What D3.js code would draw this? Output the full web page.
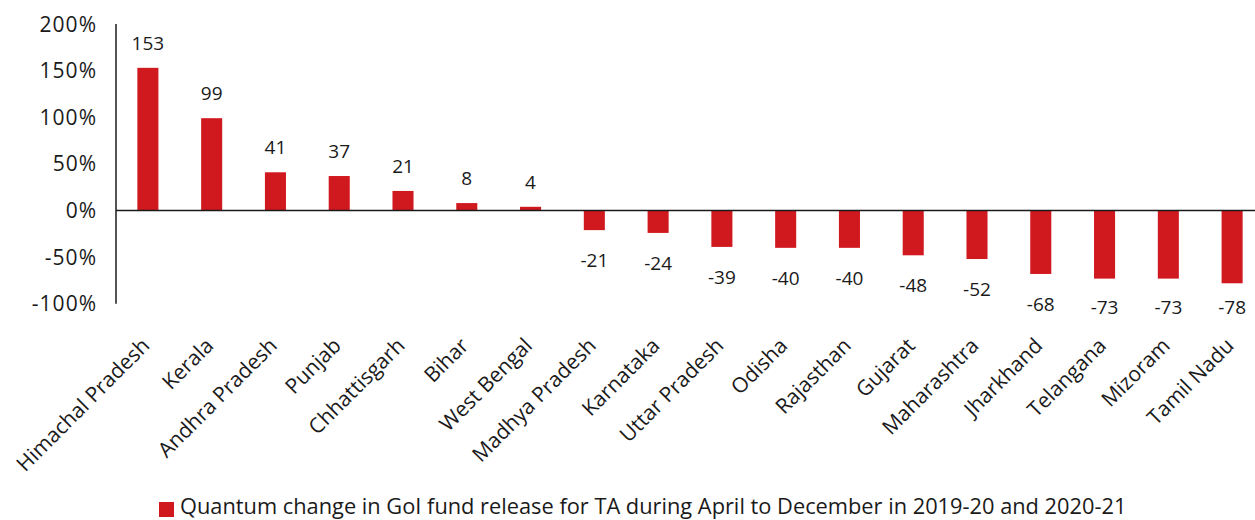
<!DOCTYPE html>
<html><head><meta charset="utf-8">
<script src="https://cdn.jsdelivr.net/npm/d3@7/dist/d3.min.js"></script>
<style>
body{margin:0;background:#fff;}
svg{display:block;font-family:"Open Sans", Lato, sans-serif;}
</style></head>
<body>
<svg id="chart" width="1255" height="520"></svg>
<script>
const categories = ["Himachal Pradesh","Kerala","Andhra Pradesh","Punjab","Chhattisgarh","Bihar","West Bengal","Madhya Pradesh","Karnataka","Uttar Pradesh","Odisha","Rajasthan","Gujarat","Maharashtra","Jharkhand","Telangana","Mizoram","Tamil Nadu"];
const values = [153,99,41,37,21,8,4,-21,-24,-39,-40,-40,-48,-52,-68,-73,-73,-78];
const yTicks = [-100,-50,0,50,100,150,200];
const seriesName = "Quantum change in GoI fund release for TA during April to December in 2019-20 and 2020-21";

const red = "#d0191f", ink = "#1a1a1a";
const svg = d3.select("#chart");

const x = d3.scaleBand().domain(categories).range([116, 1264]).paddingInner(0.67).paddingOuter(0.335);
const y = d3.scaleLinear().domain([-100, 200]).range([303.8, 24]);

// y axis labels
svg.append("g").selectAll("text").data(yTicks).join("text")
  .attr("x", 97).attr("y", d => y(d)).attr("dy", "0.36em")
  .attr("text-anchor", "end").attr("font-size", 21).attr("letter-spacing", 1).attr("fill", ink)
  .text(d => d + "%");

// bars
svg.append("g").selectAll("rect").data(values).join("rect")
  .attr("x", (d,i) => x(categories[i]))
  .attr("width", x.bandwidth())
  .attr("y", d => y(Math.max(0, d)))
  .attr("height", d => Math.abs(y(d) - y(0)))
  .attr("fill", red);

// axis lines
svg.append("line").attr("x1", 116).attr("x2", 116).attr("y1", 24).attr("y2", 303.8)
  .attr("stroke", ink).attr("stroke-width", 1.5);
svg.append("line").attr("x1", 116).attr("x2", 1255).attr("y1", y(0)).attr("y2", y(0))
  .attr("stroke", ink).attr("stroke-width", 1.5);

// value labels
svg.append("g").selectAll("text").data(values).join("text")
  .attr("x", (d,i) => x(categories[i]) + x.bandwidth()/2)
  .attr("y", d => d >= 0 ? y(d) - 18 : Math.min(y(d) + 37, 314))
  .attr("text-anchor", "middle").attr("font-size", 19).attr("fill", ink)
  .text(d => d);

// category labels
svg.append("g").selectAll("text").data(categories).join("text")
  .attr("transform", d => `translate(${x(d) + x.bandwidth()/2 + 3},347) rotate(-45)`)
  .attr("text-anchor", "end").attr("font-size", 21).attr("fill", ink)
  .text(d => d);

// legend
const lg = svg.append("g");
lg.append("rect").attr("x", 159).attr("y", 502).attr("width", 15).attr("height", 15).attr("fill", red);
lg.append("text").attr("x", 180).attr("y", 514).attr("font-size", 21.8).attr("fill", ink)
  .text(seriesName);
</script>
</body></html>
